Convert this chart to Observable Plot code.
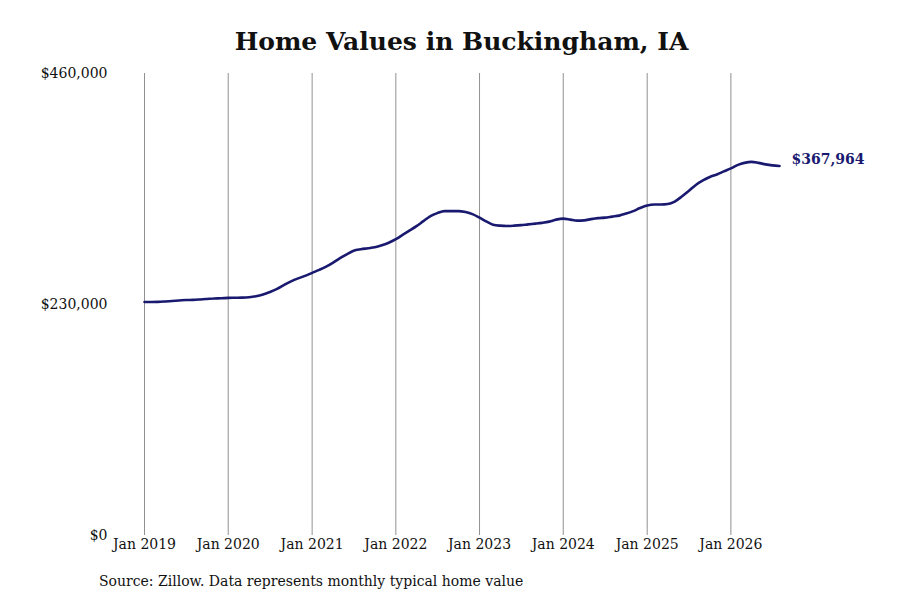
<!DOCTYPE html>
<html>
<head>
<meta charset="utf-8">
<script src="https://cdn.jsdelivr.net/npm/d3@7"></script>
<script src="https://cdn.jsdelivr.net/npm/@observablehq/plot@0.6"></script>
<style>
  html, body { margin: 0; padding: 0; background: #fff; }
  body { width: 900px; height: 600px; overflow: hidden; font-family: "DejaVu Serif", serif; }
  #title { box-sizing: border-box; height: 60px; padding-top: 30px; padding-left: 144px; width: 779px;
           text-align: center; font-size: 25px; line-height: 24px; font-weight: bold; color: #111; }
  #caption { padding-left: 99px; padding-top: 13px; font-size: 14px; line-height: 16px; color: #111; }
  svg { display: block; }
</style>
</head>
<body>
<div id="title">Home Values in Buckingham, IA</div>
<div id="chart"></div>
<div id="caption">Source: Zillow. Data represents monthly typical home value</div>
<script>
// Monthly typical home values, Jan 2019 – Aug 2026
const startYear = 2019;
const values = [
  // 2019
  232500, 232500, 232600, 233000, 233500, 234000, 234500, 234600, 235000, 235500, 236000, 236200,
  // 2020
  236600, 236700, 236800, 237200, 238200, 240000, 242500, 245500, 249500, 253000, 256000, 258500,
  // 2021
  261500, 264500, 267500, 271500, 276000, 280000, 283500, 285000, 286000, 287000, 289000, 291500,
  // 2022
  295000, 299500, 303500, 308000, 313000, 318000, 321000, 323000, 323000, 323000, 322000, 320000,
  // 2023
  316500, 312500, 309500, 308500, 308200, 308500, 309000, 309800, 310500, 311300, 312500, 314500,
  // 2024
  315500, 314500, 313500, 313800, 315000, 316000, 316500, 317500, 318500, 320500, 323000, 326000,
  // 2025
  328500, 329500, 329500, 330000, 332500, 337500, 343000, 349000, 353500, 357000, 359500, 362500,
  // 2026
  365500, 369000, 371000, 372000, 371000, 369500, 368500, 367964
];
const yTicks = [0, 230000, 460000];
const xTickYears = [2019, 2020, 2021, 2022, 2023, 2024, 2025, 2026];
const lastLabel = "$367,964";

const data = values.map((v, i) => ({
  date: new Date(Date.UTC(startYear + Math.floor(i / 12), i % 12, 1)),
  value: v
}));
const xTicks = xTickYears.map(y => new Date(Date.UTC(y, 0, 1)));
const last = data[data.length - 1];

const chart = Plot.plot({
  width: 900,
  height: 500,
  marginLeft: 144,
  marginRight: 121,
  marginTop: 13,
  marginBottom: 25,
  style: { fontFamily: "DejaVu Serif", fontSize: "14px", color: "#111", background: "#fff" },
  x: { type: "utc", domain: [data[0].date, last.date] },
  y: { domain: [0, 460000] },
  marks: [
    Plot.ruleX(xTicks, { stroke: "#919191", strokeWidth: 1, strokeOpacity: 1 }),
    Plot.axisX({ ticks: xTicks, tickSize: 0, tickPadding: 4, tickFormat: d3.utcFormat("%b %Y"), label: null, fontSize: 14 }),
    Plot.axisY({ ticks: yTicks, tickSize: 0, tickPadding: 37, tickFormat: d => "$" + d3.format(",")(d), label: null, fontSize: 14 }),
    Plot.line(data, { x: "date", y: "value", stroke: "#191970", strokeWidth: 2.6, curve: "monotone-x" }),
    Plot.text([last], { x: "date", y: "value", text: () => lastLabel, textAnchor: "start", dx: 12, dy: -6,
                        fill: "#191970", fontWeight: "bold", fontSize: 14 })
  ]
});
document.getElementById("chart").appendChild(chart);
</script>
</body>
</html>
